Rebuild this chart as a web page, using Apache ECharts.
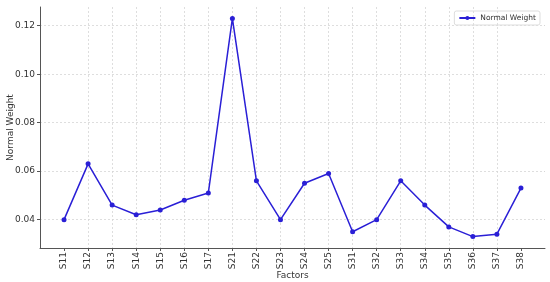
<!DOCTYPE html>
<html>
<head>
<meta charset="utf-8">
<script src="https://cdn.jsdelivr.net/npm/echarts@6/dist/echarts.min.js"></script>
<style>
  html, body { margin: 0; padding: 0; background: #fff; }
  #chart { width: 550px; height: 282px; }
</style>
</head>
<body>
<div id="chart"></div>
<script>
  // factor codes along the x axis
  var factors = ['S11', 'S12', 'S13', 'S14', 'S15', 'S16', 'S17',
                 'S21', 'S22', 'S23', 'S24', 'S25',
                 'S31', 'S32', 'S33', 'S34', 'S35', 'S36', 'S37', 'S38'];
  // normal weight per factor
  var normalWeight = [0.040, 0.063, 0.046, 0.042, 0.044, 0.048, 0.051,
                      0.123, 0.056, 0.040, 0.055, 0.059,
                      0.035, 0.040, 0.056, 0.046, 0.037, 0.033, 0.034, 0.053];

  var lineColor = '#2a1fd6';
  var chart = echarts.init(document.getElementById('chart'));

  var seriesData = normalWeight.map(function (v, i) { return [i, v]; });
  var factorIdx = factors.map(function (f, i) { return i; });

  chart.setOption({
    animation: false,
    textStyle: { fontFamily: 'DejaVu Sans' },
    grid: { left: 40, right: 5, top: 7, bottom: 34, containLabel: false, outerBoundsMode: 'none' },
    legend: {
      right: 10, top: 11,
      padding: [3, 4, 3, 4],
      borderColor: '#dddddd', borderWidth: 1, borderRadius: 2,
      itemWidth: 16, itemHeight: 5, itemGap: 4,
      textStyle: { fontSize: 7.5, color: '#333' },
      data: ['Normal Weight']
    },
    xAxis: {
      type: 'value',
      min: -1, max: 20, interval: 1,
      name: 'Factors', nameLocation: 'middle', nameGap: 23, nameMoveOverlap: false,
      nameTextStyle: { fontSize: 9, color: '#333' },
      axisLine: { show: true, onZero: false, lineStyle: { color: '#555', width: 1 } },
      axisTick: { show: true, length: 3, lineStyle: { color: '#555' },
                  customValues: factorIdx },
      axisLabel: {
        rotate: 90, fontSize: 9, color: '#333', margin: 4,
        customValues: factorIdx,
        formatter: function (v) { return factors[v] || ''; }
      },
      splitLine: { show: true, showMinLine: false, showMaxLine: false,
                   lineStyle: { color: '#d6d6d6', type: [2, 2], width: 0.8 } }
    },
    yAxis: {
      type: 'value',
      min: 0.0283, max: 0.1277, splitNumber: 5,
      name: 'Normal Weight', nameLocation: 'middle', nameGap: 25, nameMoveOverlap: false,
      nameTextStyle: { fontSize: 9, color: '#333' },
      axisLine: { show: true, onZero: false, lineStyle: { color: '#555', width: 1 } },
      axisTick: { show: true, length: 3, lineStyle: { color: '#555' } },
      axisLabel: { fontSize: 9, color: '#333', margin: 5,
                   showMinLabel: false, showMaxLabel: false,
                   formatter: function (v) { return v.toFixed(2); } },
      splitLine: { show: true, showMinLine: false, showMaxLine: false,
                   lineStyle: { color: '#d6d6d6', type: [2, 2], width: 0.8 } }
    },
    series: [{
      name: 'Normal Weight',
      type: 'line',
      data: seriesData,
      symbol: 'circle', symbolSize: 5,
      itemStyle: { color: lineColor },
      lineStyle: { color: lineColor, width: 1.5 }
    }]
  });
</script>
</body>
</html>
